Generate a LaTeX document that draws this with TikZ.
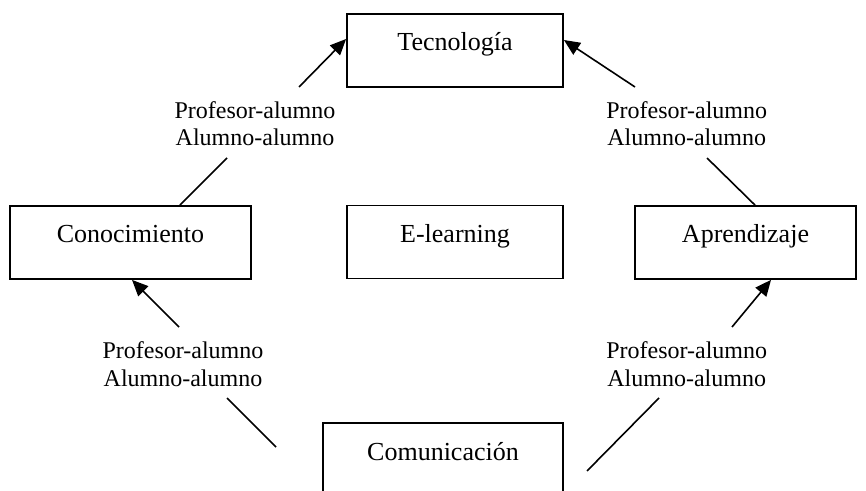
\documentclass[tikz,border=0pt]{standalone}
\usepackage{fontspec}
\setmainfont{Liberation Serif}
\usetikzlibrary{arrows.meta,calc}
\tikzset{
  mybox/.style={draw, line width=0.9pt, inner sep=0pt, minimum height=36.5pt,
    text height=18.5pt, text depth=18pt, font=\fontsize{13}{15.6}\selectfont},
  lbl/.style={align=center, inner sep=0pt, anchor=base, font=\fontsize{12}{13.8}\selectfont},
  conn/.style={line width=0.8pt},
  arr/.style={line width=0.8pt, -{Triangle[length=8pt,width=7pt]}}
}
\begin{document}
\begin{tikzpicture}[x=0.5pt,y=-0.5pt]
\useasboundingbox (0,0) rectangle (866,491);
\clip (0,0) rectangle (866,491);
% boxes
\node[mybox, minimum width=108pt] (tec) at (455,50.5) {Tecnología};
\node[mybox, minimum width=108pt] (elr) at (455,242) {E-learning};
\node[mybox, minimum width=120.5pt] (con) at (130.5,242.5) {Conocimiento};
\node[mybox, minimum width=110.5pt] (apr) at (745.5,242.5) {Aprendizaje};
\node[mybox, minimum width=120pt] (com) at (443,459.5) {Comunicación};
% labels (anchored at the baseline of the last line)
\node[lbl] (l1) at (255,146) {Profesor-alumno\\Alumno-alumno};
\node[lbl] (l2) at (686.7,146) {Profesor-alumno\\Alumno-alumno};
\node[lbl] (l3) at (183,386) {Profesor-alumno\\Alumno-alumno};
\node[lbl] (l4) at (686.7,386) {Profesor-alumno\\Alumno-alumno};
% free ends
\coordinate (p1) at (227,158);
\coordinate (q1) at (299,87);
\coordinate (p2) at (707,158);
\coordinate (q2) at (635,87);
\coordinate (p3) at (227,398);
\coordinate (r3) at (276,447);
\coordinate (q3) at (179,327);
\coordinate (r4) at (587,471);
\coordinate (p4) at (659,398);
\coordinate (q4) at (732,327);
% connectors
\draw[conn] ($(con.north)+(49.5,0)$) -- (p1);
\draw[arr] (q1) -- ($(tec.west)+(0,-11.5)$);
\draw[conn] ($(apr.north)+(9.5,0)$) -- (p2);
\draw[arr] (q2) -- ($(tec.east)+(0,-10.5)$);
\draw[conn] (r3) -- (p3);
\draw[arr] (q3) -- ($(con.south)+(1.5,0)$);
\draw[conn] (r4) -- (p4);
\draw[arr] (q4) -- ($(apr.south)+(25.5,0)$);
\end{tikzpicture}
\end{document}
